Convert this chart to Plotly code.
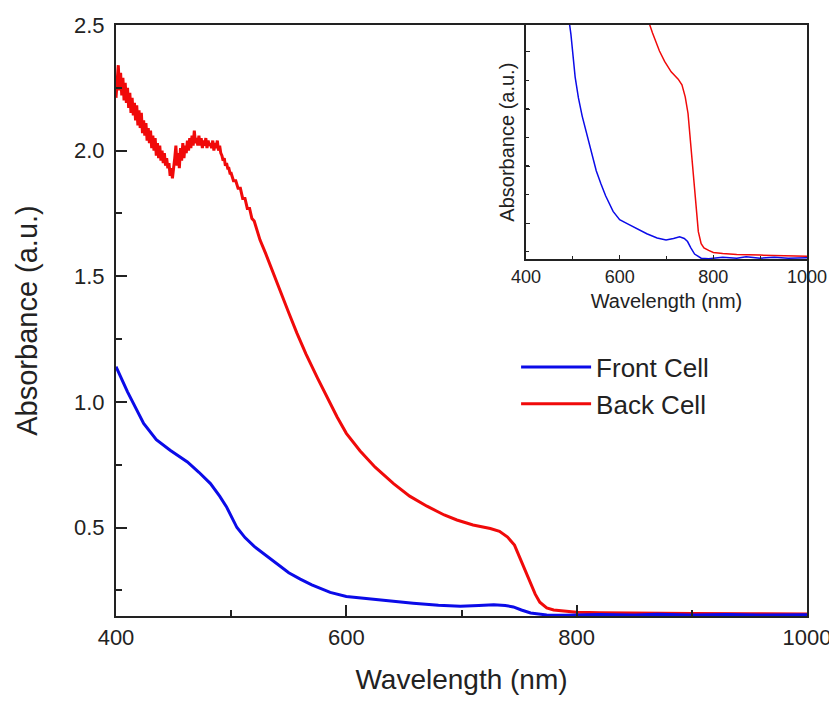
import plotly.graph_objects as go

# ---------------- data ----------------
back_wl = [400, 401, 402, 403, 404, 405, 406, 407, 408, 409, 410, 411, 412, 413, 414, 415, 416, 417, 418, 419,
           420, 421, 422, 423, 424, 425, 426, 427, 428, 429, 430, 431, 432, 433, 434, 435, 436, 437, 438, 439,
           440, 441, 442, 443, 444, 445, 446, 447, 448, 449, 450, 451, 452, 453, 454, 455, 456, 457, 458, 459,
           460, 461, 462, 463, 464, 465, 466, 467, 468, 469, 470, 471, 472, 473, 474, 475, 476, 477, 478, 479,
           480, 481, 482, 483, 484, 485, 486, 487, 488, 489, 490, 491, 492, 493, 494, 495, 496, 497, 498, 499,
           500, 502, 504, 506, 508, 510, 512, 514, 516, 518, 520, 522, 525, 530, 535, 540, 545, 550,
           557, 565, 575, 585, 592, 600, 612, 625, 641, 655, 670, 685, 696, 710, 725, 733,
           740, 746, 751, 756, 760, 764, 768, 774, 780, 790, 800, 820, 850, 900, 950, 1000]
back_abs = [2.21, 2.30, 2.34, 2.24, 2.31, 2.22, 2.29, 2.20, 2.27, 2.19, 2.25, 2.17, 2.23, 2.15, 2.21, 2.14, 2.19, 2.12, 2.18, 2.10,
            2.16, 2.09, 2.15, 2.07, 2.12, 2.06, 2.11, 2.04, 2.09, 2.03, 2.08, 2.01, 2.06, 2.00, 2.05, 1.98, 2.03, 1.97, 2.02, 1.96,
            2.00, 1.95, 1.99, 1.94, 1.97, 1.93, 1.95, 1.90, 1.93, 1.89, 1.92, 1.97, 2.02, 1.94, 1.99, 1.93, 2.01, 1.96, 2.03, 1.97,
            2.02, 1.99, 2.04, 2.00, 2.05, 2.01, 2.06, 2.02, 2.08, 2.03, 2.05, 2.02, 2.06, 2.02, 2.05, 2.01, 2.04, 2.02, 2.05, 2.01,
            2.04, 2.02, 2.03, 2.01, 2.04, 2.00, 2.03, 2.01, 2.04, 2.00, 2.02, 1.99, 1.98, 1.96, 1.97, 1.94, 1.95, 1.93, 1.93, 1.91,
            1.91, 1.88, 1.88, 1.85, 1.85, 1.81, 1.81, 1.77, 1.77, 1.73, 1.72, 1.69, 1.645, 1.59, 1.53, 1.47, 1.415, 1.355,
            1.275, 1.19, 1.095, 1.00, 0.94, 0.875, 0.805, 0.74, 0.675, 0.625, 0.585, 0.55, 0.53, 0.51, 0.496, 0.485,
            0.462, 0.43, 0.375, 0.32, 0.275, 0.235, 0.203, 0.180, 0.172, 0.167, 0.163, 0.161, 0.159, 0.158, 0.157, 0.156]

front_wl = [400, 410, 424, 435, 447, 462, 472, 482, 490, 496, 505, 512, 520, 530, 540, 550,
            560, 570, 586, 600, 615, 635, 658, 680, 699, 715, 728, 738, 745, 752, 760, 774,
            790, 820, 850, 870, 900, 930, 960, 1000]
front_abs = [1.14, 1.04, 0.914, 0.85, 0.808, 0.761, 0.72, 0.675, 0.625, 0.582, 0.50, 0.46, 0.425, 0.39, 0.352, 0.32,
             0.295, 0.272, 0.242, 0.226, 0.219, 0.209, 0.199, 0.191, 0.187, 0.190, 0.193, 0.190, 0.184, 0.172, 0.160, 0.152,
             0.151, 0.154, 0.152, 0.155, 0.152, 0.154, 0.152, 0.153]

series_names = ["Front Cell", "Back Cell"]
main_xticks = [400, 600, 800, 1000]
main_yticks = [0.5, 1.0, 1.5, 2.0, 2.5]

BLUE = "#0b0be8"
RED = "#f00a0a"
AXC = "#222222"
FONT = "Arial, Liberation Sans, sans-serif"

fig = go.Figure()

# main traces
fig.add_trace(go.Scatter(x=back_wl, y=back_abs, mode="lines", name=series_names[1],
                         line=dict(color=RED, width=3), legendrank=2, xaxis="x", yaxis="y"))
fig.add_trace(go.Scatter(x=front_wl, y=front_abs, mode="lines", name=series_names[0],
                         line=dict(color=BLUE, width=3), legendrank=1, xaxis="x", yaxis="y"))
# inset traces (same data, zoomed y range)
fig.add_trace(go.Scatter(x=back_wl, y=back_abs, mode="lines", showlegend=False,
                         line=dict(color=RED, width=1.5), xaxis="x2", yaxis="y2"))
fig.add_trace(go.Scatter(x=front_wl, y=front_abs, mode="lines", showlegend=False,
                         line=dict(color=BLUE, width=1.5), xaxis="x2", yaxis="y2"))

fig.update_layout(
    width=837, height=705,
    # the page body adds an 8px offset, so margins are shifted to compensate
    margin=dict(l=108, r=38, t=17, b=97, autoexpand=False),
    paper_bgcolor="white", plot_bgcolor="white",
    font=dict(family=FONT, color=AXC),
    xaxis=dict(
        domain=[0, 1], range=[400, 1000], tickvals=main_xticks, automargin=False,
        showgrid=False, zeroline=False,
        showline=True, linecolor=AXC, linewidth=2, mirror=True,
        ticks="inside", ticklen=11, tickwidth=2, tickcolor=AXC,
        minor=dict(dtick=100, tick0=400, ticks="inside", ticklen=6, tickwidth=2, tickcolor=AXC),
        tickfont=dict(size=22, color=AXC), ticklabelstandoff=1,
        title=dict(text="Wavelength (nm)", font=dict(size=28, color=AXC), standoff=20),
    ),
    yaxis=dict(
        domain=[0, 1], range=[0.148, 2.5], tickvals=main_yticks, tickformat=".1f", automargin=False,
        showgrid=False, zeroline=False,
        showline=True, linecolor=AXC, linewidth=2, mirror=True,
        ticks="inside", ticklen=11, tickwidth=2, tickcolor=AXC,
        minor=dict(dtick=0.25, tick0=0.25, ticks="inside", ticklen=6, tickwidth=2, tickcolor=AXC),
        tickfont=dict(size=22, color=AXC), ticklabelstandoff=5,
        title=dict(text="Absorbance (a.u.)", font=dict(size=29, color=AXC), standoff=28),
    ),
    xaxis2=dict(
        domain=[0.5933, 1.0], anchor="y2", range=[400, 1000], tickvals=main_xticks, automargin=False,
        showgrid=False, zeroline=False,
        showline=True, linecolor=AXC, linewidth=2, mirror=False,
        ticks="inside", ticklen=4, tickwidth=1, tickcolor=AXC,
        minor=dict(dtick=100, tick0=400, ticks="inside", ticklen=3, tickwidth=1, tickcolor=AXC),
        tickfont=dict(size=18, color=AXC), ticklabelstandoff=0,
        title=dict(text="Wavelength (nm)", font=dict(size=20, color=AXC), standoff=8),
    ),
    yaxis2=dict(
        domain=[0.6036, 1.0], anchor="x2", range=[0.15, 0.60], automargin=False,
        showgrid=False, zeroline=False,
        showline=True, linecolor=AXC, linewidth=2, mirror=False,
        tick0=0.219, dtick=0.1098, showticklabels=False,
        ticks="inside", ticklen=4, tickwidth=1, tickcolor=AXC,
        minor=dict(tick0=0.1646, dtick=0.0549, ticks="inside", ticklen=3, tickwidth=1, tickcolor=AXC),
        title=dict(text="Absorbance (a.u.)", font=dict(size=20, color=AXC), standoff=4),
    ),
    legend=dict(
        x=0.579, y=0.461, xanchor="left", yanchor="top",
        bgcolor="rgba(255,255,255,0)", borderwidth=0, itemwidth=70,
        font=dict(size=26, color=AXC), tracegroupgap=0,
    ),
    showlegend=True,
)

fig.write_html("out.html")
